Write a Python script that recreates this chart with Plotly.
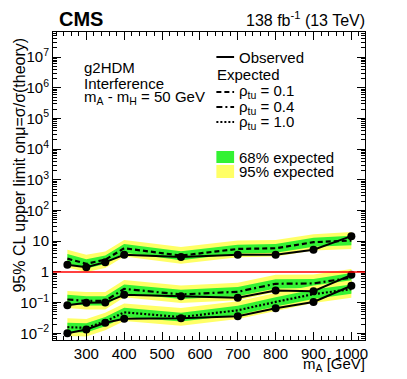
import plotly.graph_objects as go

FONT = "Liberation Sans, Arial, Helvetica, sans-serif"
GREEN = "#33f233"
YELLOW = "#ffff66"

mass = [250, 300, 350, 400, 550, 700, 800, 900, 1000]

# rho_tu = 0.1
obs_01 = [1.70, 1.43, 2.08, 3.6, 3.05, 3.6, 3.6, 5.3, 14.6]
exp_01 = [2.7, 1.84, 2.5, 5.9, 3.4, 5.6, 5.9, 9.3, 10.5]
lo95_01 = [1.4, 1.0, 1.35, 3.2, 1.85, 3.0, 3.2, 5.0, 5.6]
lo68_01 = [1.9, 1.3, 1.8, 4.2, 2.4, 4.0, 4.2, 6.6, 7.4]
hi68_01 = [3.8, 2.6, 3.4, 8.1, 4.7, 7.7, 8.1, 13.0, 15.0]
hi95_01 = [5.3, 3.6, 4.6, 11.0, 6.5, 10.5, 11.0, 17.0, 20.0]

# rho_tu = 0.4
obs_04 = [0.082, 0.098, 0.100, 0.179, 0.162, 0.143, 0.249, 0.236, 0.80]
exp_04 = [0.126, 0.113, 0.113, 0.28, 0.184, 0.225, 0.41, 0.42, 0.65]
lo95_04 = [0.066, 0.060, 0.060, 0.15, 0.097, 0.12, 0.22, 0.22, 0.34]
lo68_04 = [0.090, 0.080, 0.080, 0.20, 0.13, 0.16, 0.29, 0.30, 0.46]
hi68_04 = [0.18, 0.16, 0.16, 0.39, 0.26, 0.32, 0.58, 0.59, 0.92]
hi95_04 = [0.24, 0.22, 0.22, 0.54, 0.36, 0.44, 0.80, 0.82, 1.25]

# rho_tu = 1.0
obs_10 = [0.0100, 0.0132, 0.022, 0.0297, 0.031, 0.036, 0.065, 0.105, 0.354]
exp_10 = [0.0158, 0.0150, 0.0243, 0.048, 0.0337, 0.056, 0.105, 0.188, 0.275]
lo95_10 = [0.0082, 0.0078, 0.0126, 0.025, 0.0175, 0.029, 0.054, 0.097, 0.143]
lo68_10 = [0.0110, 0.0106, 0.017, 0.034, 0.024, 0.039, 0.074, 0.13, 0.195]
hi68_10 = [0.022, 0.021, 0.034, 0.068, 0.047, 0.079, 0.148, 0.265, 0.39]
hi95_10 = [0.031, 0.029, 0.047, 0.093, 0.066, 0.11, 0.205, 0.36, 0.53]

groups = [
    (obs_01, exp_01, lo95_01, lo68_01, hi68_01, hi95_01, "5px,3px"),
    (obs_04, exp_04, lo95_04, lo68_04, hi68_04, hi95_04, "6px,3px,2px,3px"),
    (obs_10, exp_10, lo95_10, lo68_10, hi68_10, hi95_10, "2px,2px"),
]

# page body has an 8px margin, so the figure is 8px smaller and shifted
OFF = 8
W, H = 407 - OFF, 379 - OFF
L, T, PW, PH = 48 - OFF, 32 - OFF, 317, 308
R, B = W - L - PW, H - T - PH


def px(x):
    return (x - OFF - L) / PW


def py(y):
    return (T + PH - (y - OFF)) / PH


fig = go.Figure()


def band(lo, hi, color):
    fig.add_trace(go.Scatter(x=mass + mass[::-1], y=hi + lo[::-1], fill="toself",
                             fillcolor=color, line={"width": 0}, mode="lines",
                             hoverinfo="skip", showlegend=False))


for obs, exp, lo95, lo68, hi68, hi95, dash in groups:
    band(lo95, hi95, YELLOW)
    band(lo68, hi68, GREEN)

fig.add_hline(y=1, line_color="#ff0000", line_width=1.5)

for obs, exp, lo95, lo68, hi68, hi95, dash in groups:
    fig.add_trace(go.Scatter(x=mass, y=exp, mode="lines", showlegend=False,
                             line={"color": "black", "width": 2.2, "dash": dash}))
    fig.add_trace(go.Scatter(x=mass, y=obs, mode="lines+markers", showlegend=False,
                             line={"color": "black", "width": 2},
                             marker={"color": "black", "size": 8}))

# y ticks
yvals = [10.0 ** k for k in range(-2, 8)]
ytext = ["10<sup>−2</sup>", "10<sup>−1</sup>", "1", "10"] + \
        [f"10<sup>{k}</sup>" for k in range(2, 8)]
yminor = [m * 10.0 ** k for k in range(-3, 8) for m in range(2, 10)]

fig.update_layout(
    width=W, height=H,
    margin={"l": L, "r": R, "t": T, "b": B},
    paper_bgcolor="white", plot_bgcolor="white",
    font={"family": FONT, "size": 15, "color": "black"},
    showlegend=False,
    xaxis={"range": [212, 1036], "showgrid": False, "zeroline": False,
           "showline": True, "linecolor": "black", "linewidth": 1, "mirror": "ticks",
           "ticks": "inside", "ticklen": 8, "tickcolor": "black",
           "tickvals": [300, 400, 500, 600, 700, 800, 900, 1000],
           "minor": {"ticks": "inside", "ticklen": 4, "dtick": 20, "tick0": 0,
                     "tickcolor": "black", "showgrid": False},
           "tickfont": {"size": 15}},
    yaxis={"type": "log", "range": [-2.22, 7.82], "showgrid": False, "zeroline": False,
           "showline": True, "linecolor": "black", "linewidth": 1, "mirror": "ticks",
           "ticks": "inside", "ticklen": 8, "tickcolor": "black",
           "tickvals": yvals, "ticktext": ytext,
           "minor": {"ticks": "inside", "ticklen": 4, "tickvals": yminor,
                     "tickcolor": "black", "showgrid": False},
           "tickfont": {"size": 15}},
)

ann = []
ann.append(dict(text="<b>CMS</b>", x=px(52), y=py(19), xanchor="left", yanchor="middle",
                font={"size": 20}))
ann.append(dict(text="138 fb<sup>-1</sup> (13 TeV)", x=px(367), y=py(19), xanchor="right",
                yanchor="middle", font={"size": 16}))
ann.append(dict(text="95% CL upper limit onμ=σ/σ(theory)", x=px(14), y=py(165),
                textangle=-90, xanchor="center", yanchor="middle", font={"size": 16}))
ann.append(dict(text="m<sub>A</sub> [GeV]", x=px(367), y=py(364), xanchor="right",
                yanchor="middle", font={"size": 15}))
for txt, yy in [("g2HDM", 67), ("Interference", 83), ("m<sub>A</sub> - m<sub>H</sub> = 50 GeV", 97)]:
    ann.append(dict(text=txt, x=px(77), y=py(yy), xanchor="left", yanchor="middle",
                    font={"size": 15}))

leg = [("Observed", 57, "solid"), ("ρ<sub>tu</sub> = 0.1", 92, "5px,3px"),
       ("ρ<sub>tu</sub> = 0.4", 107, "6px,3px,2px,3px"), ("ρ<sub>tu</sub> = 1.0", 122, "2px,2px")]
shapes = []
for txt, yy, dash in leg:
    shapes.append(dict(type="line", xref="paper", yref="paper", x0=px(214), x1=px(232),
                       y0=py(yy), y1=py(yy), line={"color": "black", "width": 2, "dash": dash}))
    ann.append(dict(text=txt, x=px(235), y=py(yy), xanchor="left", yanchor="middle",
                    font={"size": 15}))
ann.append(dict(text="Expected", x=px(213), y=py(74), xanchor="left", yanchor="middle",
                font={"size": 15}))
for txt, y0, y1, col in [("68% expected", 151, 163, GREEN), ("95% expected", 165, 178, YELLOW)]:
    shapes.append(dict(type="rect", xref="paper", yref="paper", x0=px(214), x1=px(232),
                       y0=py(y1), y1=py(y0), fillcolor=col, line={"width": 0}))
    ann.append(dict(text=txt, x=px(235), y=py((y0 + y1) / 2), xanchor="left",
                    yanchor="middle", font={"size": 15}))

for a in ann:
    a.update(xref="paper", yref="paper", showarrow=False)
fig.update_layout(annotations=ann, shapes=list(fig.layout.shapes) + shapes)

fig.write_html("out.html")
